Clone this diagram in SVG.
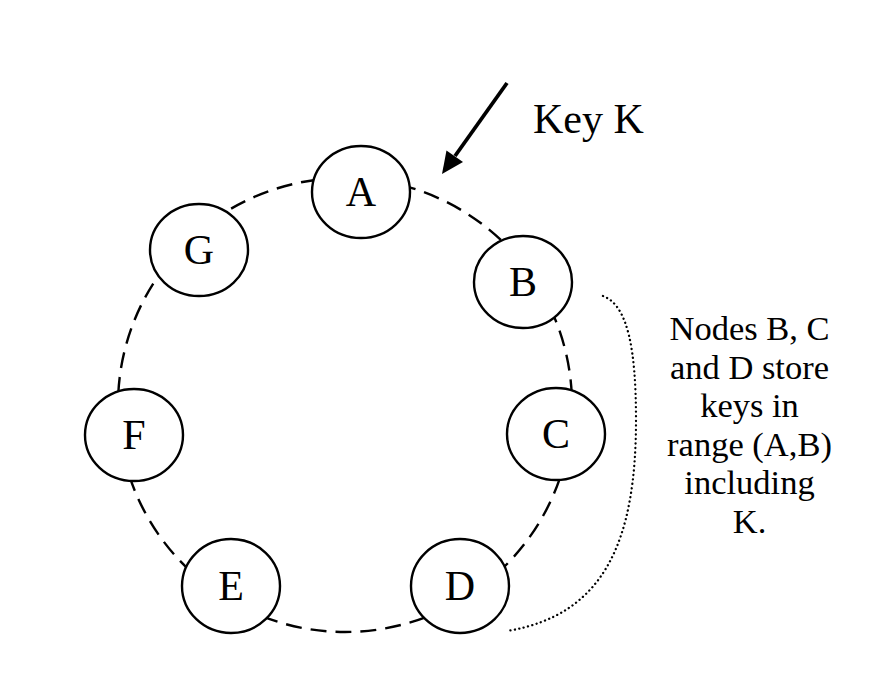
<svg xmlns="http://www.w3.org/2000/svg" width="882" height="683" viewBox="0 0 882 683">
<style>
.node ellipse{fill:#fff;stroke:#000;stroke-width:2.4}
.lbl{font-family:"Liberation Serif","Times New Roman",serif;font-size:42px;fill:#000;text-anchor:middle}
.note{font-family:"Liberation Serif","Times New Roman",serif;font-size:34.5px;fill:#000;text-anchor:middle}
</style>
<rect width="882" height="683" fill="#fff"/>
<g id="connectors">
<circle cx="345" cy="405" r="227" fill="none" stroke="#000" stroke-width="2.4" stroke-dasharray="16 9"/>
<path d="M603,296 C628,305 636,350 636,420 C636,540 605,615 507,631" fill="none" stroke="#000" stroke-width="2.3" stroke-linecap="round" stroke-dasharray="0.1 4.4"/>
<line x1="507" y1="83" x2="455" y2="156" stroke="#000" stroke-width="3.8"/>
<polygon points="442,174 463,162 446.5,150.4" fill="#000"/>
</g>
<g id="node-A" class="node"><ellipse cx="361" cy="192" rx="49" ry="46"/><text class="lbl" x="361" y="206">A</text></g>
<g id="node-B" class="node"><ellipse cx="523" cy="282" rx="49" ry="46"/><text class="lbl" x="523" y="296">B</text></g>
<g id="node-C" class="node"><ellipse cx="556" cy="434" rx="49" ry="46"/><text class="lbl" x="556" y="448">C</text></g>
<g id="node-D" class="node"><ellipse cx="460" cy="586" rx="49" ry="47"/><text class="lbl" x="460" y="600">D</text></g>
<g id="node-E" class="node"><ellipse cx="231" cy="586" rx="49" ry="47"/><text class="lbl" x="231" y="600">E</text></g>
<g id="node-F" class="node"><ellipse cx="134" cy="435" rx="49" ry="46"/><text class="lbl" x="134" y="449">F</text></g>
<g id="node-G" class="node"><ellipse cx="199" cy="250" rx="49" ry="46"/><text class="lbl" x="199" y="264">G</text></g>
<g id="label-key"><text class="lbl" x="533" y="133" style="text-anchor:start">Key K</text></g>
<g id="label-note">
<text class="note" x="749.5" y="340">Nodes B, C</text>
<text class="note" x="749.5" y="378.5">and D store</text>
<text class="note" x="749.5" y="417">keys in</text>
<text class="note" x="749.5" y="455.5">range (A,B)</text>
<text class="note" x="749.5" y="494">including</text>
<text class="note" x="749.5" y="532.5">K.</text>
</g>
</svg>
